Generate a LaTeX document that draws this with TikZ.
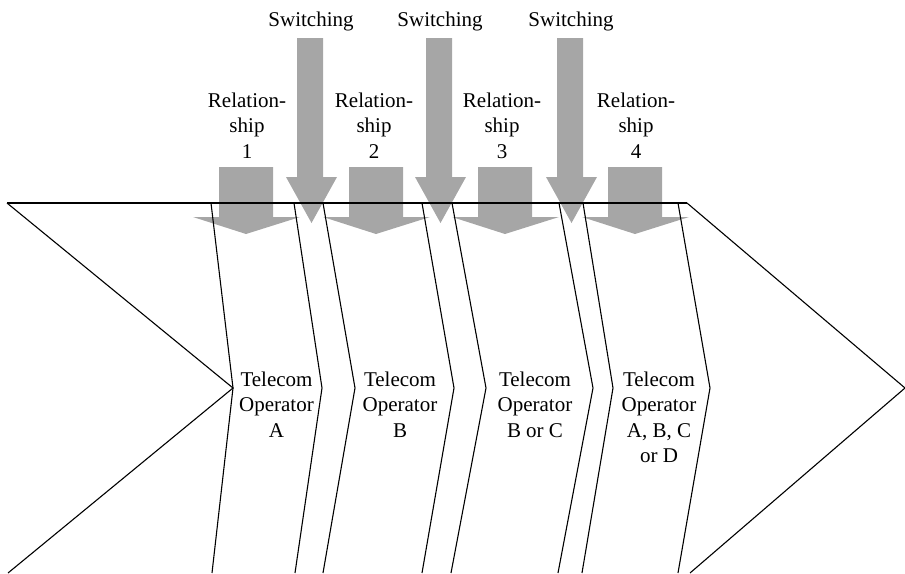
\documentclass[tikz,border=0pt]{standalone}
\usepackage{fontspec}
\setmainfont{Liberation Serif}
\definecolor{arrowgray}{RGB}{166,166,166}
\begin{document}
\begin{tikzpicture}[x=1pt,y=-1pt,
  bound/.style={draw=black,line width=1.1pt,line join=miter},
  grayarrow/.style={fill=arrowgray,draw=none},
  lbl/.style={font=\fontsize{21}{25.5}\selectfont,align=center,inner sep=0pt,anchor=base}]
\useasboundingbox (0,0) rectangle (905,573);
% relationship arrows
\foreach \c in {246,376,505,635}
  \fill[grayarrow] (\c-27,167) -- (\c+27,167) -- (\c+27,217) -- (\c+54,217) -- (\c,234) -- (\c-53,217) -- (\c-27,217) -- cycle;
% switching arrows
\foreach \c in {310,439,570}
  \fill[grayarrow] (\c-13,38) -- (\c+13,38) -- (\c+13,177) -- (\c+27,177) -- (\c+1.5,223) -- (\c-24,177) -- (\c-13,177) -- cycle;
% top edge
\coordinate (tl) at (7,203);
\coordinate (tr) at (687,203);
\draw[bound] (tl) -- (tr);
% chevron boundaries
\draw[bound] (tl) -- (233,388) -- (8,573);
\draw[bound] (211,203) -- (233,388) -- (212,573);
\draw[bound] (294,203) -- (322,388) -- (295,573);
\draw[bound] (323,203) -- (355,388) -- (323,573);
\draw[bound] (422,203) -- (454,388) -- (422,573);
\draw[bound] (452,203) -- (486,388) -- (451,573);
\draw[bound] (559,203) -- (593,388) -- (558,573);
\draw[bound] (583,203) -- (613,388) -- (582,573);
\draw[bound] (678,203) -- (710,388) -- (678,573);
\draw[bound] (tr) -- (905,388) -- (690,573);
% labels (base anchor = baseline of the last line)
\node[lbl] (sw1) at (311,26) {Switching};
\node[lbl] (sw2) at (440,26) {Switching};
\node[lbl] (sw3) at (571,26) {Switching};
\node[lbl] (rel1) at (247,158) {Relation-\\ship\\1};
\node[lbl] (rel2) at (374,158) {Relation-\\ship\\2};
\node[lbl] (rel3) at (502,158) {Relation-\\ship\\3};
\node[lbl] (rel4) at (636,158) {Relation-\\ship\\4};
\node[lbl] (opA) at (276.5,437) {Telecom\\Operator\\A};
\node[lbl] (opB) at (400,437) {Telecom\\Operator\\B};
\node[lbl] (opBC) at (535,437) {Telecom\\Operator\\B or C};
\node[lbl] (opABCD) at (659,462.5) {Telecom\\Operator\\A, B, C\\or D};
\end{tikzpicture}
\end{document}
